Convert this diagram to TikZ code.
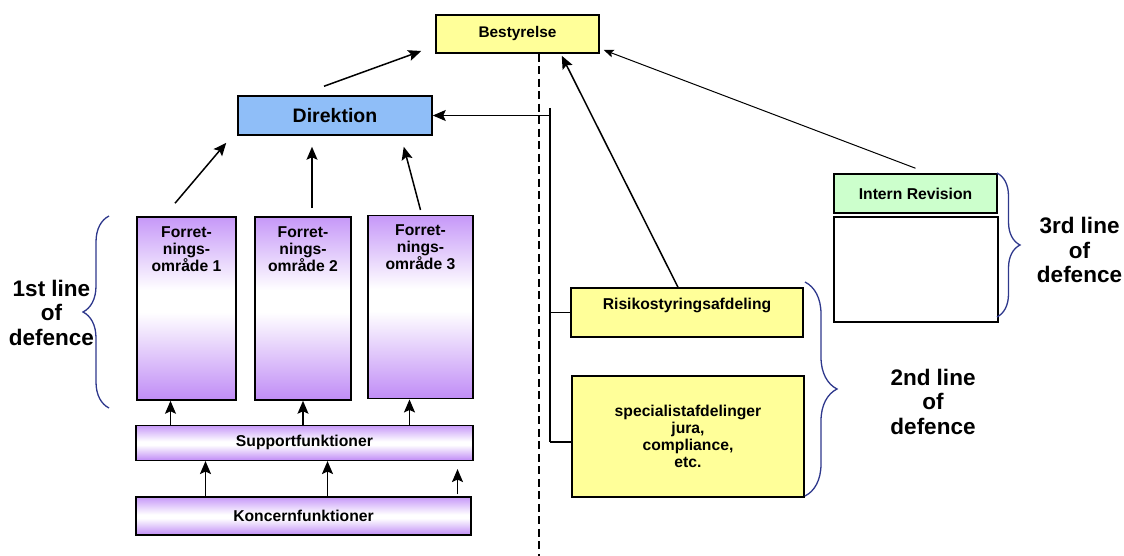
\documentclass[tikz,border=0pt]{standalone}
\usepackage{fontspec}
\setmainfont{Liberation Sans}
\usetikzlibrary{arrows.meta,decorations.pathreplacing}
\definecolor{ptop}{RGB}{198,152,248}
\definecolor{pbot}{RGB}{192,140,246}
\definecolor{yel}{RGB}{255,255,153}
\definecolor{blu}{RGB}{143,190,248}
\definecolor{grn}{RGB}{204,255,204}
\definecolor{brc}{RGB}{46,56,140}
\pgfdeclareverticalshading{forretshade}{100bp}{color(0bp)=(pbot); color(25bp)=(pbot); color(49bp)=(white); color(55bp)=(white); color(75bp)=(ptop); color(100bp)=(ptop)}
\pgfdeclareverticalshading{barshade}{100bp}{color(0bp)=(pbot); color(25bp)=(pbot); color(47bp)=(white); color(52bp)=(white); color(75bp)=(ptop); color(100bp)=(ptop)}
\tikzset{
  box/.style={draw=black, line width=1.5pt, inner sep=0pt, rectangle},
  txt/.style={font=\fontsize{15.7}{17.2}\selectfont\bfseries, align=center, inner sep=0pt},
  bigtxt/.style={font=\fontsize{22.5}{24.8}\selectfont\bfseries, align=center, inner sep=0pt},
  arr/.style={line width=1.5pt, -{Stealth[length=13pt,width=11pt,inset=2.5pt]}},
  thinarr/.style={line width=1pt, -{Stealth[length=10pt,width=8pt,inset=2pt]}},
  conn/.style={line width=1.2pt},
  bracestyle/.style={draw=brc, line width=1.3pt, decorate},
}
\begin{document}
\begin{tikzpicture}[x=1pt,y=-1pt]
\useasboundingbox (0,0) rectangle (1124,556);
% boxes
\node[box, fill=yel, minimum width=163pt, minimum height=38pt] (best) at (517.5,34) {};
\node[txt, font=\fontsize{15.4}{17}\selectfont\bfseries] (bestt) at (best.center) {Bestyrelse};
\node[box, fill=blu, minimum width=194pt, minimum height=39pt] (dir) at (335,115.5) {};
\node[txt, font=\fontsize{19.5}{21}\selectfont\bfseries] (dirt) at (dir.center) {Direktion};
\node[box, shading=forretshade, minimum width=99pt, minimum height=183pt] (f1) at (186.5,308.5) {};
\node[box, shading=forretshade, minimum width=96pt, minimum height=183pt] (f2) at (303,308.5) {};
\node[box, shading=forretshade, minimum width=105pt, minimum height=183pt] (f3) at (420.5,307.2) {};
\node[txt, anchor=base] (f1t) at (186.5,271.9) {Forret-\\nings-\\område 1};
\node[txt, anchor=base] (f2t) at (303,271.9) {Forret-\\nings-\\område 2};
\node[txt, anchor=base] (f3t) at (420.5,269.9) {Forret-\\nings-\\område 3};
\node[box, shading=barshade, minimum width=336.7pt, minimum height=35pt] (sup) at (304.4,442.8) {};
\node[txt] (supt) at (sup.center) {Supportfunktioner};
\node[box, shading=barshade, minimum width=335pt, minimum height=38pt] (kon) at (303.5,516) {};
\node[txt] (kont) at (kon.center) {Koncernfunktioner};
\node[box, fill=yel, minimum width=232pt, minimum height=49pt] (risk) at (687,312.5) {};
\node[txt, anchor=base] (riskt) at (687,309.3) {Risikostyringsafdeling};
\node[box, fill=yel, minimum width=232pt, minimum height=121pt] (spec) at (688,436.5) {};
\node[txt] (spect) at (spec.center) {specialistafdelinger\\jura,\\compliance,\\etc.};
\node[box, fill=grn, minimum width=163pt, minimum height=39pt] (ir) at (915.5,193.5) {};
\node[txt] (irt) at (ir.center) {Intern Revision};
\node[box, fill=white, minimum width=164pt, minimum height=105pt] (irb) at (916,269.5) {};
% line labels
\node[bigtxt, anchor=base] (l1) at (51.5,345.6) {1st line\\of\\defence};
\node[bigtxt, anchor=base] (l2) at (933,434.6) {2nd line\\of\\defence};
\node[bigtxt, anchor=base] (l3) at (1079.5,282.9) {3rd line\\of\\defence};
% braces
\draw[bracestyle, decoration={brace, amplitude=26pt}] (109,408) -- (109,216);
\draw[bracestyle, decoration={brace, amplitude=32pt}] (805,282) -- (805,496);
\draw[bracestyle, decoration={brace, amplitude=23pt}] (997,173) -- (997,317);
% dashed divider
\draw[line width=1.6pt, dash pattern=on 8pt off 4.5pt] ([xshift=21.5pt]best.south) -- ++(0,503);
% solid bus
\coordinate (vt) at (550,108);
\coordinate (vb) at (550,442);
\draw[conn] (vt) -- (vb);
\draw[conn, -{Stealth[length=13pt,width=11pt,inset=2.5pt]}] (vt |- dir.east) -- (dir.east);
\draw[conn] (vt |- risk.west) -- (risk.west);
\draw[conn] (vb) -- (vb -| spec.west);
% arrows to Direktion
\draw[arr] ([shift={(-11.5,-13)}]f1.north) -- ([shift={(-11,7)}]dir.south west);
\draw[arr] ([shift={(9,-8)}]f2.north) -- ([shift={(-23,11)}]dir.south);
\draw[arr] ([shift={(0,-5)}]f3.north) -- ([shift={(-29,11)}]dir.south east);
% to Bestyrelse
\draw[arr] ([shift={(-11,-9)}]dir.north) -- ([shift={(-14,17)}]best.west);
\draw[arr] ([xshift=-9pt]risk.north) -- ([shift={(-38,2)}]best.south east);
\draw[thinarr] ([shift={(0,-5)}]ir.north) -- ([shift={(4,16)}]best.east);
% support -> forretning
\draw[arr] ([xshift=-16pt]f1.south |- sup.north) -- ([xshift=-16pt]f1.south);
\draw[arr] (f2.south |- sup.north) -- (f2.south);
\draw[arr] ([xshift=-11pt]f3.south |- sup.north) -- ([xshift=-11pt]f3.south);
% koncern -> support
\draw[arr] ([xshift=-98pt]kon.north) -- ([xshift=-98pt]kon.north |- sup.south);
\draw[arr] ([xshift=24pt]kon.north) -- ([xshift=24pt]kon.north |- sup.south);
\draw[arr] ([shift={(154,-2)}]kon.north) -- ([shift={(154,8)}]kon.north |- sup.south);
\end{tikzpicture}
\end{document}
